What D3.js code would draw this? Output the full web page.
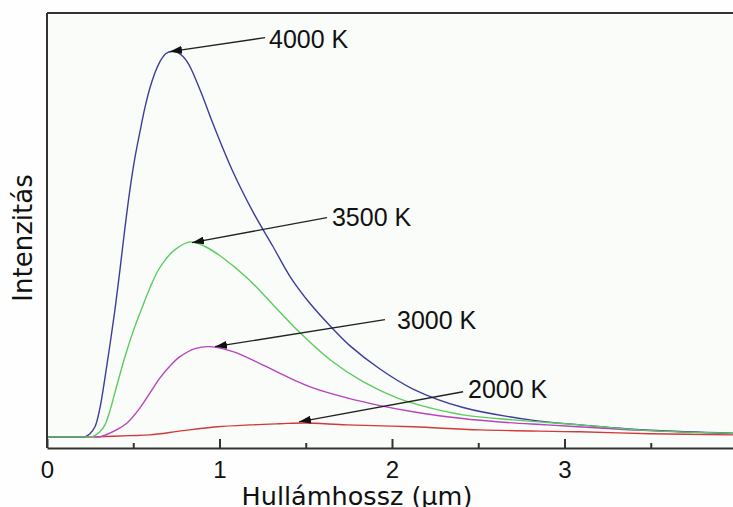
<!DOCTYPE html>
<html>
<head>
<meta charset="utf-8">
<script src="https://cdn.jsdelivr.net/npm/d3@7"></script>
<style>
  html, body { margin: 0; padding: 0; background: #fdfefd; }
  svg { display: block; }
</style>
</head>
<body>
<svg id="chart" width="733" height="507"></svg>
<script>
// ---- data: wavelength in µm, intensity in arbitrary units ----
const lambda4000 = [0, 0.20, 0.22, 0.249, 0.278, 0.307, 0.336, 0.365, 0.394, 0.423, 0.452, 0.481, 0.510, 0.539, 0.568, 0.597, 0.626, 0.655, 0.690, 0.725, 0.759, 0.812, 0.887, 0.962, 1.078, 1.194, 1.310, 1.409, 1.525, 1.658, 1.757, 1.930, 2.122, 2.412, 2.800, 3.090, 3.496, 4.0];
const int4000    = [0, 0, 0, 0.8, 2.6, 7.5, 15.3, 23.9, 33.0, 43.4, 54.3, 64.2, 72.5, 79.2, 85.5, 90.6, 94.5, 97.4, 99.5, 100, 99.7, 97.4, 90.1, 81.3, 68.8, 58.4, 49.4, 41.6, 34.6, 28.0, 23.6, 17.6, 12.4, 7.6, 4.4, 3.1, 1.7, 0.9];

const lambda3500 = [0, 0.24, 0.261, 0.307, 0.336, 0.365, 0.406, 0.452, 0.499, 0.551, 0.597, 0.643, 0.690, 0.742, 0.829, 0.916, 1.003, 1.159, 1.310, 1.467, 1.641, 1.832, 2.029, 2.220, 2.412, 2.701, 3.090, 3.496, 4.0];
const int3500    = [0, 0, 0, 1.3, 3.1, 6.8, 13.5, 20.8, 27.3, 33.5, 38.7, 43.1, 46.2, 48.6, 50.6, 49.4, 47.0, 41.3, 34.3, 27.0, 20.0, 14.3, 10.1, 7.5, 5.7, 4.4, 3.1, 1.6, 0.9];

const lambda3000 = [0, 0.28, 0.307, 0.394, 0.464, 0.539, 0.597, 0.655, 0.713, 0.771, 0.858, 0.945, 1.078, 1.235, 1.391, 1.542, 1.739, 1.930, 2.122, 2.319, 2.609, 2.899, 3.206, 3.496, 4.0];
const int3000    = [0, 0, 0, 1.6, 3.6, 7.5, 11.4, 15.3, 18.4, 20.8, 22.9, 23.4, 22.1, 19.0, 15.6, 12.7, 10.1, 8.1, 6.5, 5.2, 3.9, 3.1, 2.3, 1.6, 0.8];

const lambda2000 = [0, 0.24, 0.267, 0.481, 0.597, 0.788, 0.986, 1.177, 1.351, 1.496, 1.739, 2.122, 2.510, 3.090, 3.496, 4.0];
const int2000    = [0, 0, 0, 0.3, 0.5, 1.6, 2.6, 3.1, 3.4, 3.6, 3.1, 2.6, 1.8, 1.3, 0.8, 0.5];

const seriesNames  = ["2000 K", "3000 K", "4000 K", "3500 K"];   // drawing order
const seriesColors = ["#d03a3a", "#b943bd", "#3d3d9c", "#5ccc5c"];

// annotations (label, arrow tail, arrow tip) in data units
const labels     = ["4000 K", "3500 K", "3000 K", "2000 K"];
const labelX     = [1.287, 1.652, 2.029, 2.441];
const labelY     = [103.2, 57.0, 30.2, 12.4];
const arrowTailX = [1.264, 1.623, 1.959, 2.412];
const arrowTailY = [103.6, 56.9, 30.4, 11.7];
const arrowTipX  = [0.713, 0.841, 0.974, 1.461];
const arrowTipY  = [100.0, 50.4, 23.4, 3.9];

const xMajorTicks = [0, 1, 2, 3];
const xMinorTicks = [0.5, 1.5, 2.5, 3.5];
const xTitle = "Hullámhossz (µm)";
const yTitle = "Intenzitás";

// ---- layout ----
const svg = d3.select("#chart");
const W = 733, H = 507;
const x = d3.scaleLinear().domain([0, 4]).range([47, 737]);
const y = d3.scaleLinear().domain([-2.9, 110]).range([448, 13]);

const series = {
  "4000 K": d3.zip(lambda4000, int4000),
  "3500 K": d3.zip(lambda3500, int3500),
  "3000 K": d3.zip(lambda3000, int3000),
  "2000 K": d3.zip(lambda2000, int2000)
};

// plot background
svg.append("rect").attr("x", x(0)).attr("y", y(110)).attr("width", W - x(0)).attr("height", y(-2.9) - y(110)).attr("fill", "#f9fcf9");

// curves
const line = d3.line().x(d => x(d[0])).y(d => y(d[1])).curve(d3.curveCatmullRom.alpha(0.5));
svg.append("g").selectAll("path").data(seriesNames).join("path")
  .attr("d", n => line(series[n]))
  .attr("fill", "none")
  .attr("stroke", (n, i) => seriesColors[i])
  .attr("stroke-width", 1.4);

// frame: left, top
const frame = svg.append("g").attr("stroke", "#333").attr("stroke-width", 2).attr("fill", "none");
frame.append("line").attr("x1", x(0)).attr("x2", x(0)).attr("y1", y(110)).attr("y2", y(-2.9));
frame.append("line").attr("x1", x(0)).attr("x2", W).attr("y1", y(110)).attr("y2", y(110));

// x axis with inward ticks
const xAxis = svg.append("g").attr("transform", `translate(0,${y(-2.9)})`)
  .call(d3.axisBottom(x).tickValues(xMajorTicks).tickSizeInner(-9).tickSizeOuter(0).tickFormat(d3.format("d")));
xAxis.select(".domain").attr("stroke", "#333").attr("stroke-width", 2);
xAxis.selectAll(".tick line").attr("stroke", "#333").attr("stroke-width", 2);
xAxis.selectAll(".tick text").attr("font-family", "Liberation Sans, Arial, sans-serif").attr("font-size", 24)
  .attr("fill", "#111").attr("dy", "0").attr("y", 30);
const xMinor = svg.append("g").attr("transform", `translate(0,${y(-2.9)})`)
  .call(d3.axisBottom(x).tickValues(xMinorTicks).tickSizeInner(-5).tickSizeOuter(0).tickFormat(""));
xMinor.select(".domain").remove();
xMinor.selectAll(".tick line").attr("stroke", "#333").attr("stroke-width", 2);

// axis titles
svg.append("text").attr("x", 357).attr("y", 505).attr("text-anchor", "middle")
  .attr("font-family", "DejaVu Sans, Verdana, sans-serif").attr("font-size", 25.5).attr("fill", "#111").text(xTitle);
svg.append("text").attr("transform", "translate(32,238) rotate(-90)").attr("text-anchor", "middle")
  .attr("font-family", "DejaVu Sans, Verdana, sans-serif").attr("font-size", 26).attr("fill", "#111").text(yTitle);

// arrow marker
svg.append("defs").append("marker").attr("id", "arr").attr("viewBox", "0 0 12 8")
  .attr("refX", 12).attr("refY", 4).attr("markerWidth", 12).attr("markerHeight", 8)
  .attr("markerUnits", "userSpaceOnUse").attr("orient", "auto")
  .append("path").attr("d", "M0,0 L12,4 L0,8 Z").attr("fill", "#111");

const ann = svg.append("g");
labels.forEach((t, i) => {
  ann.append("line")
    .attr("x1", x(arrowTailX[i])).attr("y1", y(arrowTailY[i]))
    .attr("x2", x(arrowTipX[i])).attr("y2", y(arrowTipY[i]))
    .attr("stroke", "#222").attr("stroke-width", 1.3).attr("marker-end", "url(#arr)");
  ann.append("text").attr("x", x(labelX[i])).attr("y", y(labelY[i])).attr("dy", "0.36em")
    .attr("font-family", "Liberation Sans, Arial, sans-serif").attr("font-size", 25).attr("fill", "#111").text(t);
});
</script>
</body>
</html>
